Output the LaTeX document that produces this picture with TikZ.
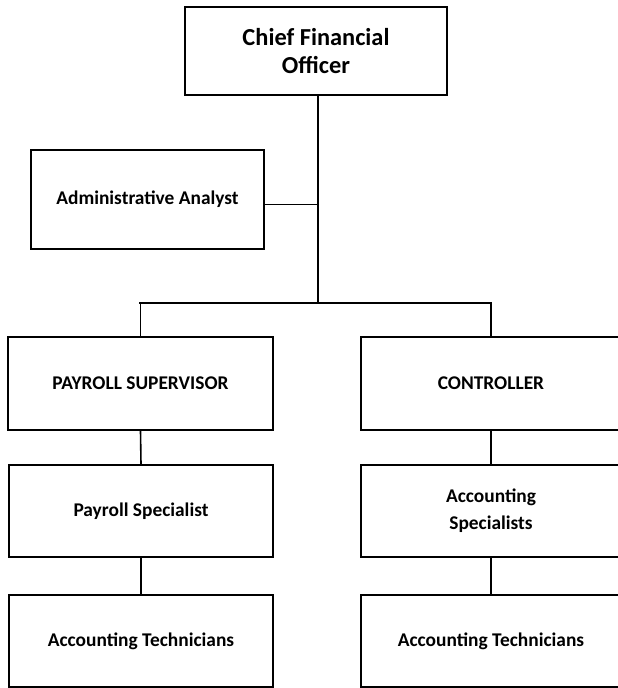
\documentclass[tikz,border=0pt]{standalone}
\usepackage{fontspec}
\setmainfont{Carlito}
\tikzset{
  orgbox/.style={draw=black, line width=1.6pt, fill=white, align=center, inner sep=0pt,
    font=\fontsize{19.4}{27}\selectfont\bfseries},
  topbox/.style={orgbox, line width=2.7pt, font=\fontsize{24.4}{28.3}\selectfont\bfseries},
  link/.style={draw=black, line width=1.6pt},
  mainlink/.style={draw=black, line width=2.7pt},
  barlink/.style={draw=black, line width=2.3pt, line cap=rect}
}
\begin{document}
\begin{tikzpicture}[x=1pt,y=-1pt]
\useasboundingbox (0,0) rectangle (618,688);
\fill[white] (0,0) rectangle (618,688);

\coordinate (j) at (318,303);

\node[topbox, minimum width=262pt, minimum height=88pt] (cfo) at (316,51) {Chief Financial\\Officer};
\node[orgbox, minimum width=233pt, minimum height=99pt] (admin) at (147.5,199.5) {Administrative Analyst};

\node[orgbox, minimum width=265pt, minimum height=93pt] (ps) at (140.5,383.5) {PAYROLL SUPERVISOR};
\node[orgbox, minimum width=260pt, minimum height=93pt] (ctrl) at (491,383.5) {CONTROLLER};

\node[orgbox, minimum width=264pt, minimum height=92pt] (pspec) at (141,511) {Payroll Specialist};
\node[orgbox, minimum width=260pt, minimum height=92pt] (aspec) at (491,511) {Accounting\\Specialists};

\node[orgbox, minimum width=264pt, minimum height=92pt] (atl) at (141,641) {Accounting Technicians};
\node[orgbox, minimum width=260pt, minimum height=92pt] (atr) at (491,641) {Accounting Technicians};

\draw[mainlink] (cfo.south -| j) -- (j);
\draw[link] ([yshift=-5pt]admin.east) -- ([yshift=-5pt]admin.east -| j);
\draw[barlink] (ps.north |- j) -- (ctrl.north |- j);
\draw[link] (ps.north |- j) -- (ps.north);
\draw[link] (ctrl.north |- j) -- (ctrl.north);
\draw[link] (ps.south) -- (pspec.north);
\draw[link] (pspec.south) -- (atl.north);
\draw[link] (ctrl.south) -- (aspec.north);
\draw[link] (aspec.south) -- (atr.north);
\end{tikzpicture}
\end{document}
